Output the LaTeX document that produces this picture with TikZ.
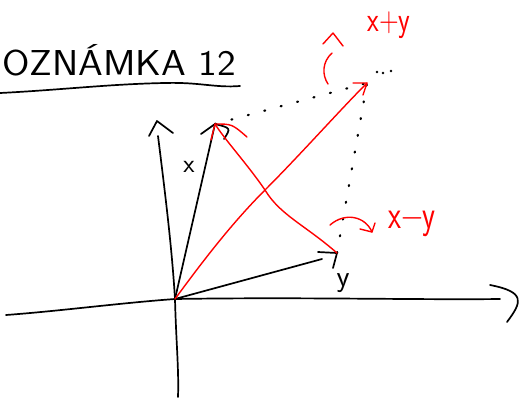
\documentclass[tikz,border=0pt]{standalone}
\usepackage{fontspec}
\begin{document}
\begin{tikzpicture}[x=1pt,y=-1pt,
  ink/.style={line width=1.7pt, black, line cap=round, line join=round},
  redink/.style={line width=1.4pt, red, line cap=round, line join=round},
  dotline/.style={line width=2.2pt, black, line cap=round, dash pattern=on 1pt off 16pt},
  lbl/.style={inner sep=0pt}
]
\useasboundingbox (0,0) rectangle (525,402);
% key points
\coordinate (O) at (175,299);
\coordinate (X) at (215,124);
\coordinate (Y) at (337,253);
\coordinate (S) at (367,83);
\coordinate (Hl) at (6,315);
\coordinate (Hr) at (500,299);
\coordinate (Vt) at (158,136);
\coordinate (Vb) at (178,397);

% title
\node[font=\sffamily\fontsize{36}{36}\selectfont, inner sep=0pt, anchor=base west, xscale=1.1] (title) at (2,75) {OZNÁMKA 12};
\draw[ink] (0,93) .. controls (60,90) and (110,84) .. (165,83) .. controls (200,82) and (215,88) .. (240,86);

% axes
\draw[ink] (Hl) .. controls (60,311) and (120,303) .. (O) .. controls (300,297) and (420,300) .. (Hr);
\draw[ink] (490,285) .. controls (526,292) and (522,302) .. (507,322);
\draw[ink] (Vt) .. controls (166,200) and (172,250) .. (O) .. controls (176,340) and (179,370) .. (Vb);
\draw[ink] (149,136) -- (157,121) -- (173,133);

% dotted completion lines
\draw[dotline] (X) -- (S);
\draw[dotline] (Y) -- (S);
\fill (377,72) circle (1.3pt) (383,73) circle (1.3pt) (391,71) circle (1.3pt);

% vector x
\draw[ink] (O) -- (X);
\draw[ink] (201,134) -- (X) .. controls (231,128) .. (224,139);
\node[lbl, font=\sffamily\fontsize{26}{26}\selectfont] (xl) at (189,167) {x};

% vector y
\draw[ink] (O) -- (322,259);
\draw[ink] (318,252) -- (Y) -- (333,268);
\node[lbl, font=\sffamily\fontsize{30}{30}\selectfont] (yl) at (343,283) {y};

% red x+y
\draw[redink] (O) .. controls (200,265) and (230,225) .. (265,190) .. controls (300,155) and (340,110) .. (S);
\draw[redink] (353,83) -- (S) -- (363,95);
\node[lbl, red, font=\sffamily\fontsize{27}{27}\selectfont, yscale=1.3] (sl) at (389,25) {x+y};
\draw[redink] (323,44) -- (333,33) -- (343,46);
\draw[redink] (332,53) .. controls (322,62) and (322,75) .. (328,84);

% red x-y
\draw[redink] (Y) .. controls (305,225) and (280,215) .. (265,190) .. controls (248,165) and (225,140) .. (X);
\draw[redink] (211,140) -- (X) .. controls (232,124) .. (247,137);
\draw[redink] (330,225) .. controls (345,212) and (365,216) .. (372,232);
\draw[redink] (360,229) -- (372,232) -- (375,223);
\node[lbl, red, font=\sffamily\fontsize{30}{30}\selectfont, yscale=1.35] (dl) at (412,224) {x−y};
\end{tikzpicture}
\end{document}
